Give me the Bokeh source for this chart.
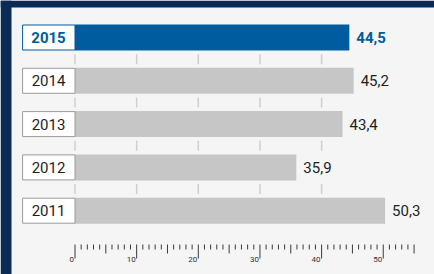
from bokeh.plotting import figure
from bokeh.models import Range1d, ColumnDataSource
from bokeh.core.properties import value
from bokeh.embed import file_html
from bokeh.resources import INLINE

# ---- data ----
years = ["2015", "2014", "2013", "2012", "2011"]
values = [44.5, 45.2, 43.4, 35.9, 50.3]
highlight = [True, False, False, False, False]
axis_labels = [0, 10, 20, 30, 40, 50]
axis_max = 55
grid_values = [0, 10, 20, 30, 40]

# ---- layout constants ----
W, H = 434, 274
PX = 6.165      # pixels per unit on x
X0 = 74.5       # pixel position of zero
ROW = 43.3      # pixels per row
Y0 = 37         # pixel centre of first row
BAR_H = 26 / ROW

BLUE = "#005b9f"
GRAY_BAR = "#c6c6c6"
BG = "#f5f5f5"
DARK = "#0b2a55"
FONT = "Roboto"

x_start, x_end = -X0 / PX, (W - X0) / PX
y_bottom, y_top = (H - Y0) / ROW, -Y0 / ROW

p = figure(width=W, height=H, output_backend="svg", toolbar_location=None,
           x_range=Range1d(x_start, x_end), y_range=Range1d(y_bottom, y_top),
           x_axis_location=None, y_axis_location=None,
           min_border=0, background_fill_color=BG, border_fill_color=BG,
           outline_line_color=None)
p.grid.visible = False

rows = list(range(len(years)))
bar_colors = [BLUE if h else GRAY_BAR for h in highlight]
box_line = [BLUE if h else "#9a9a9a" for h in highlight]
label_colors = [BLUE if h else "#1e1e1e" for h in highlight]
styles = ["bold" if h else "normal" for h in highlight]
val_text = [f"{v:.1f}".replace(".", ",") for v in values]

src = ColumnDataSource(dict(y=rows, v=values, year=years, bc=bar_colors,
                            bl=box_line, lc=label_colors, st=styles, vt=val_text))

# dark page background strips (left and top)
p.quad(left=[x_start, x_start], right=[x_start + 11 / PX, x_end],
       top=[y_top, y_top], bottom=[y_bottom, y_top + 7 / ROW],
       fill_color=DARK, line_color=None)

# grid segments between bars
gx, gy0, gy1 = [], [], []
for i in range(len(years) - 1):
    gap = i + 0.5
    for g in grid_values:
        gx.append(g)
        gy0.append(gap - 5 / ROW)
        gy1.append(gap + 5 / ROW)
p.segment(x0=gx, x1=gx, y0=gy0, y1=gy1, line_color="#cfcfcf", line_width=1.5)

# bars
p.hbar(y="y", left=0, right="v", height=BAR_H, fill_color="bc", line_color=None, source=src)

# year boxes
p.hbar(y="y", left=-8.5, right=0, height=BAR_H - 1 / ROW, fill_color="white",
       line_color="bl", line_width=1, source=src)
p.text(x=-4.3, y="y", text="year", text_align="center", text_baseline="middle",
       text_font=value(FONT), text_font_size="15px", text_font_style="st",
       text_color="lc", source=src)

# value labels
p.text(x="v", y="y", text="vt", x_offset=7, text_align="left", text_baseline="middle",
       text_font=value(FONT), text_font_size="15px", text_font_style="st",
       text_color="lc", source=src)

# bottom scale
tick_top = (244 - Y0) / ROW
tx, ty1 = [], []
for t in range(0, axis_max + 1):
    if t % 10 == 0:
        L = 14
    elif t % 5 == 0:
        L = 9
    else:
        L = 5
    tx.append(t)
    ty1.append(tick_top + L / ROW)
p.segment(x0=tx, x1=tx, y0=[tick_top] * len(tx), y1=ty1, line_color="#3a3a3a", line_width=1)
p.text(x=axis_labels, y=[(259 - Y0) / ROW] * len(axis_labels),
       text=[str(a) for a in axis_labels], x_offset=-1, text_align="right",
       text_baseline="alphabetic", text_font=value(FONT), text_font_size="8px",
       text_color="#333333")

open("out.html", "w").write(file_html(p, INLINE))
